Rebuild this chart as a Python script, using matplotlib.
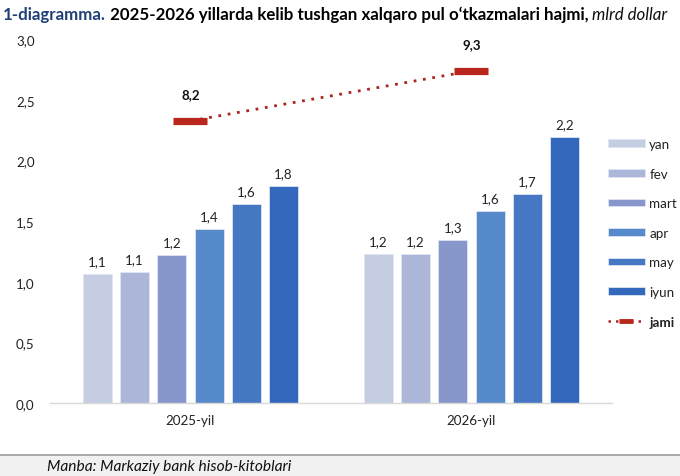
import matplotlib
matplotlib.use("Agg")
import matplotlib.pyplot as plt
from matplotlib.patches import Patch, Rectangle
from matplotlib.lines import Line2D

plt.rcParams['font.family'] = ['Lato', 'DejaVu Sans']

categories = ["2025-yil", "2026-yil"]
months = ["yan", "fev", "mart", "apr", "may", "iyun"]
values = {
    "yan":  [1.063, 1.23],
    "fev":  [1.08, 1.23],
    "mart": [1.22, 1.34],
    "apr":  [1.434, 1.585],
    "may":  [1.64, 1.72],
    "iyun": [1.79, 2.195],
}
totals = [8.2, 9.3]
total_label = "jami"
colors = ["#C5CDE3", "#ABB6D8", "#8797CB", "#578ACA", "#4577C3", "#3468BC"]

W, H = 680, 477
fig = plt.figure(figsize=(W / 100, H / 100), dpi=100)
ax = fig.add_axes([50 / W, 73 / H, 562 / W, 364 / H])

FS = 9.6
step = 0.1325
width = 0.103
for j, m in enumerate(months):
    xs = [i + (j - 2.5) * step for i in range(len(categories))]
    bars = ax.bar(xs, values[m], width=width, color=colors[j], label=m,
                  edgecolor="#dfe5f2", linewidth=0.6, zorder=2)
    ax.bar_label(bars, labels=[f"{v:.1f}".replace(".", ",") for v in values[m]],
                 padding=5, fontsize=FS, color="#222222")

ax.set_xlim(-0.5, len(categories) - 0.5)
ax.set_ylim(0, 3)
ax.set_yticks([0, 0.5, 1.0, 1.5, 2.0, 2.5, 3.0])
ax.set_yticklabels([f"{t:.1f}".replace(".", ",") for t in [0, 0.5, 1.0, 1.5, 2.0, 2.5, 3.0]])
ax.set_xticks(range(len(categories)))
ax.set_xticklabels(categories)
ax.tick_params(axis="both", length=0, labelsize=FS, colors="#222222")
ax.tick_params(axis="y", pad=11)
ax.tick_params(axis="x", pad=8)
for s in ["top", "right", "left"]:
    ax.spines[s].set_visible(False)
ax.spines["bottom"].set_color("#d9d9d9")
ax.spines["bottom"].set_linewidth(1.0)

ax2 = ax.twinx()
ax2.set_ylim(2, 10)
ax2.axis("off")
ax2.plot(range(len(categories)), totals, linestyle=(0, (1, 2.4)), color="#A8271E",
         linewidth=2.0, marker="_", markersize=24, markeredgewidth=5.2,
         markeredgecolor="#B8261C", zorder=3, label=total_label)
for i, t in enumerate(totals):
    ax2.annotate(f"{t:.1f}".replace(".", ","), (i, t), xytext=(0, 15),
                 textcoords="offset points", ha="center", va="bottom",
                 fontsize=FS, fontweight="bold", color="#111111")

handles = [Patch(facecolor=c, edgecolor="#dfe5f2", linewidth=0.6) for c in colors]
handles.append(Line2D([0], [0], linestyle=(0, (1, 2.0)), color="#A8271E", linewidth=1.8,
                      marker="_", markersize=10, markeredgewidth=3.5, markeredgecolor="#B8261C"))
leg = fig.legend(handles, months + [total_label], loc="upper left",
                 bbox_to_anchor=(596 / W, 1 - 127 / H), frameon=False,
                 fontsize=FS, handlelength=2.75, handleheight=0.5, numpoints=1,
                 labelspacing=1.32, handletextpad=0.35)
for txt in leg.get_texts():
    txt.set_color("#222222")
leg.get_texts()[-1].set_fontweight("bold")

# Title composed of styled pieces
fig.canvas.draw()
renderer = fig.canvas.get_renderer()
pieces = [("1-diagramma.", dict(color="#1F3F77", fontweight="bold")),
          (" 2025-2026 yillarda kelib tushgan xalqaro pul o\u2018tkazmalari hajmi,",
           dict(color="#000000", fontweight="bold")),
          (" mlrd dollar", dict(color="#111111", fontstyle="italic"))]
x = 3 / W
y = 1 - 15 / H
for txt, kw in pieces:
    t = fig.text(x, y, txt, fontsize=12.15, va="center", ha="left", **kw)
    bb = t.get_window_extent(renderer)
    x += bb.width / W

# Footer
fig.add_artist(Rectangle((0, 0), 1, 20 / H, transform=fig.transFigure,
                         facecolor="#f1f1f1", edgecolor="none", zorder=0))
fig.add_artist(Line2D([0, 1], [21 / H, 21 / H], transform=fig.transFigure,
                      color="#9a9a9a", linewidth=1.2))
fig.text(47 / W, 10 / H, "Manba: Markaziy bank hisob-kitoblari", fontsize=11.2,
         fontstyle="italic", va="center", ha="left", color="#111111")

fig.savefig("out.png", dpi=100)
